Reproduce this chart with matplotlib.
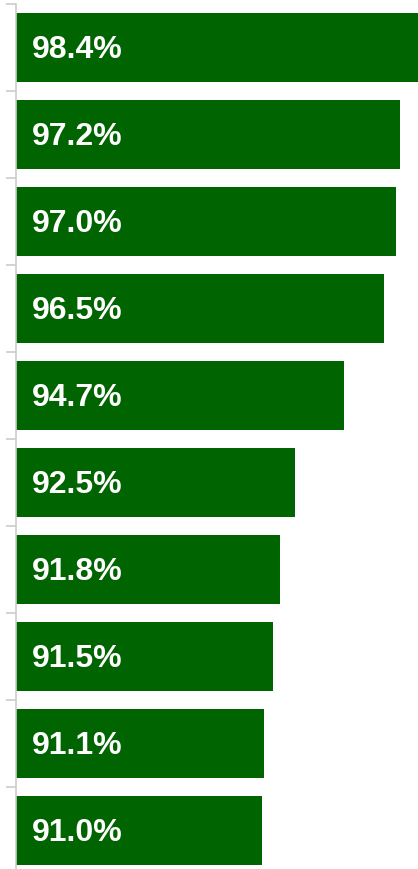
import numpy as np
import matplotlib.pyplot as plt

values = [98.4, 97.2, 97.0, 96.5, 94.7, 92.5, 91.8, 91.5, 91.1, 91.0]
labels = ['98.4%', '97.2%', '97.0%', '96.5%', '94.7%', '92.5%', '91.8%', '91.5%', '91.1%', '91.0%']

W, H = 418, 870
fig = plt.figure(figsize=(W / 100, H / 100), dpi=100)
# axes spans x 16..418 px, y 5..875 px (last band slightly clipped)
ax = fig.add_axes([16 / W, 1 - 875 / H, (W - 16) / W, 870 / H])

y = np.arange(len(values))
xmin, xmax = 80, 98
ax.barh(y, np.array(values) - xmin, left=xmin, height=0.79, color='#006400')
ax.set_xlim(xmin, xmax)
ax.set_ylim(len(values) - 0.5, -0.5)

for yi, lab in zip(y, labels):
    ax.annotate(lab, (xmin, yi), xytext=(16, -2), textcoords='offset pixels',
                ha='left', va='center', color='white', fontsize=23,
                fontweight='bold', family='Liberation Sans')

for s in ['top', 'right', 'bottom']:
    ax.spines[s].set_visible(False)
ax.spines['left'].set_color('#cccccc')
ax.spines['left'].set_linewidth(1.2)
ax.set_xticks([])
ax.set_yticks(np.arange(len(values)) - 0.5)
ax.set_yticklabels([])
ax.tick_params(axis='y', length=7, color='#cccccc', width=1.2)

fig.savefig('out.png', dpi=100)
